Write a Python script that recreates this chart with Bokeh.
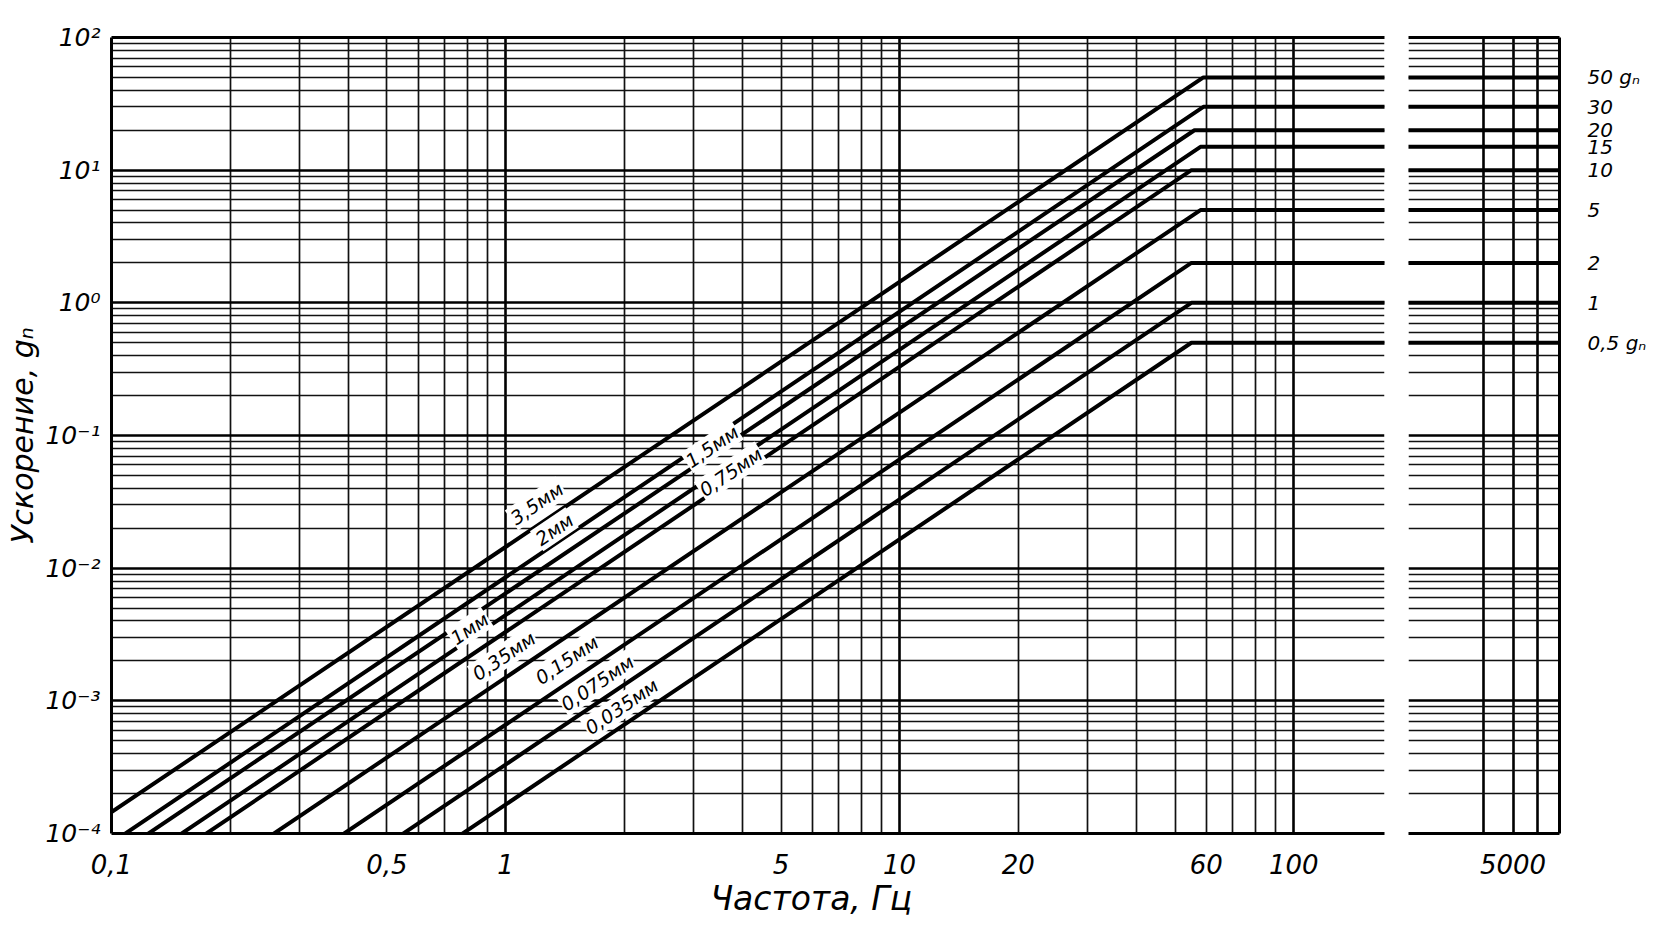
import math
from bokeh.plotting import figure
from bokeh.layouts import row
from bokeh.models import (FixedTicker, CustomJSTickFormatter, LogAxis, Label,
                          ColumnDataSource, Range1d, Title)
from bokeh.embed import file_html
from bokeh.resources import INLINE

# ---------------- data ----------------
DISPLACEMENT_LABELS = ["3,5мм", "2мм", "1,5мм", "1мм", "0,75мм", "0,35мм", "0,15мм", "0,075мм", "0,035мм"]
START_FREQ_HZ = 0.1
ACCEL_AT_START_G = [1.45e-4, 8.5e-5, 6.5e-5, 4.4e-5, 3.3e-5, 1.5e-5, 6.6e-6, 3.3e-6, 1.65e-6]
KNEE_FREQ_HZ = [59, 59, 56, 58, 55, 58, 55, 55, 55]
PLATEAU_G = [50, 30, 20, 15, 10, 5, 2, 1, 0.5]
END_FREQ_HZ = 10000
PLATEAU_LABELS = ["50 gₙ", "30", "20", "15", "10", "5", "2", "1", "0,5 gₙ"]

X_TICKS = [0.1, 0.5, 1, 5, 10, 20, 60, 100]
X_TICK_LABELS = ["0,1", "0,5", "1", "5", "10", "20", "60", "100"]
X_TICKS_RIGHT = [5000]
X_TICK_LABELS_RIGHT = ["5000"]
Y_TICKS = [1e-4, 1e-3, 1e-2, 1e-1, 1, 10, 100]
Y_TICK_LABELS = ["10⁻⁴", "10⁻³", "10⁻²", "10⁻¹", "10⁰", "10¹", "10²"]

# placement of the line tags: frequency of the tag centre; each tag sits in the
# strip just above its own line
TAG_X = [1.20, 1.33, 3.34, 0.81, 3.73, 0.99, 1.43, 1.71, 1.97]

FONT = "DejaVu Sans"

# ---------------- helpers ----------------
def fmt(vals, txts):
    return CustomJSTickFormatter(args=dict(vals=vals, txts=txts), code="""
        for (let i = 0; i < vals.length; i++) {
            if (Math.abs(Math.log10(tick) - Math.log10(vals[i])) < 1e-6) return txts[i];
        }
        return "";
    """)

def log_grid(lo_exp, hi_exp):
    major = [10.0 ** e for e in range(lo_exp, hi_exp + 1)]
    minor = [m * 10.0 ** e for e in range(lo_exp, hi_exp + 1) for m in range(2, 10)]
    return major, minor

def style_grid(fig):
    for g in (fig.xgrid, fig.ygrid):
        g.grid_line_color = "black"
        g.grid_line_width = 2.6
        g.grid_line_alpha = 1.0
        g.minor_grid_line_color = "#111111"
        g.minor_grid_line_width = 1.7

def style_axis(ax, size):
    ax.axis_line_width = 3
    ax.axis_line_color = "black"
    ax.major_tick_line_color = None
    ax.minor_tick_line_color = None
    ax.major_label_text_font = FONT
    ax.major_label_text_font_style = "italic"
    ax.major_label_text_color = "black"
    ax.major_label_text_font_size = size

def top_border(fig):
    fig.add_layout(LogAxis(ticker=FixedTicker(ticks=[]), axis_line_width=3,
                           axis_line_color="black", major_tick_line_color=None,
                           minor_tick_line_color=None, major_label_text_font_size="0px"),
                   "above")

def line_value(i, f):
    s, k, pl = ACCEL_AT_START_G[i], KNEE_FREQ_HZ[i], PLATEAU_G[i]
    t = (math.log10(f) - math.log10(START_FREQ_HZ)) / (math.log10(k) - math.log10(START_FREQ_HZ))
    return 10 ** (math.log10(s) + t * (math.log10(pl) - math.log10(s)))

xs = [[START_FREQ_HZ, k, END_FREQ_HZ] for k in KNEE_FREQ_HZ]
ys = [[s, p, p] for s, p in zip(ACCEL_AT_START_G, PLATEAU_G)]
src = ColumnDataSource(dict(xs=xs, ys=ys))

Y_RANGE = (1e-4, 1e2)
FRAME_H = 796
FRAME_W = 1273
X_LEFT_RANGE = (0.1, 170)
TOP = 37
BOTTOM = 96

y_major, y_minor = log_grid(-4, 2)

# ---------------- left (main) panel ----------------
p = figure(x_axis_type="log", y_axis_type="log",
           x_range=Range1d(*X_LEFT_RANGE), y_range=Range1d(*Y_RANGE),
           frame_width=FRAME_W, frame_height=FRAME_H,
           min_border_left=111, min_border_right=12,
           min_border_top=TOP, min_border_bottom=BOTTOM,
           output_backend="svg", toolbar_location=None,
           background_fill_color="white", border_fill_color="white")
p.outline_line_color = None

x_major, x_minor = log_grid(-1, 2)
p.xgrid.ticker = FixedTicker(ticks=x_major, minor_ticks=x_minor)
p.ygrid.ticker = FixedTicker(ticks=y_major, minor_ticks=y_minor)
style_grid(p)

xa = p.xaxis[0]
xa.ticker = FixedTicker(ticks=X_TICKS, minor_ticks=[])
xa.formatter = fmt(X_TICKS, X_TICK_LABELS)
style_axis(xa, "26px")
xa.major_label_standoff = 14

ya = p.yaxis[0]
ya.ticker = FixedTicker(ticks=Y_TICKS, minor_ticks=[])
ya.formatter = fmt(Y_TICKS, Y_TICK_LABELS)
style_axis(ya, "25px")
ya.major_label_standoff = 5
ya.axis_label = "Ускорение, gₙ"
ya.axis_label_text_font = FONT
ya.axis_label_text_font_style = "italic"
ya.axis_label_text_font_size = "30px"
ya.axis_label_text_color = "black"
ya.axis_label_standoff = 2

top_border(p)

p.multi_line("xs", "ys", source=src, line_color="black", line_width=4)

# line tags: white strips between the lines, centred in the strip above each line
ang = math.atan2(2 * FRAME_H / 6.0, FRAME_W / math.log10(X_LEFT_RANGE[1] / X_LEFT_RANGE[0]))
for i, (txt, fx) in enumerate(zip(DISPLACEMENT_LABELS, TAG_X)):
    own = line_value(i, fx)
    upper = line_value(i - 1, fx) if i > 0 else own * 10 ** 0.34
    fy = math.sqrt(own * upper)
    p.add_layout(Label(x=fx, y=fy, text=txt, angle=ang, text_align="center",
                       text_baseline="middle",
                       text_font=FONT, text_font_style="italic", text_font_size="19px",
                       text_color="black", background_fill_color="white",
                       background_fill_alpha=1.0, padding=1))

# x axis title, shifted right like in the original
p.add_layout(Title(text="Частота, Гц", align="left", offset=599,
                   text_font=FONT, text_font_style="italic", text_font_size="33px",
                   text_color="black", standoff=0), "below")

# ---------------- right (high frequency) panel ----------------
q = figure(x_axis_type="log", y_axis_type="log", y_axis_location="right",
           x_range=Range1d(2300, 7060), y_range=p.y_range,
           frame_width=151, frame_height=FRAME_H,
           min_border_left=12, min_border_right=93,
           min_border_top=TOP, min_border_bottom=BOTTOM,
           output_backend="svg", toolbar_location=None,
           background_fill_color="white", border_fill_color="white")
q.outline_line_color = None
q.xgrid.ticker = FixedTicker(ticks=[4000, 5000, 6000], minor_ticks=[])
q.ygrid.ticker = FixedTicker(ticks=y_major, minor_ticks=y_minor)
style_grid(q)

qx = q.xaxis[0]
qx.ticker = FixedTicker(ticks=X_TICKS_RIGHT, minor_ticks=[])
qx.formatter = fmt(X_TICKS_RIGHT, X_TICK_LABELS_RIGHT)
style_axis(qx, "26px")
qx.major_label_standoff = 14

qy = q.yaxis[0]
qy.ticker = FixedTicker(ticks=PLATEAU_G, minor_ticks=[])
qy.formatter = fmt(PLATEAU_G, PLATEAU_LABELS)
style_axis(qy, "20px")
qy.major_label_standoff = 22

top_border(q)

q.multi_line("xs", "ys", source=src, line_color="black", line_width=4)

layout = row(p, q, spacing=0)
open("out.html", "w").write(file_html(layout, INLINE))
